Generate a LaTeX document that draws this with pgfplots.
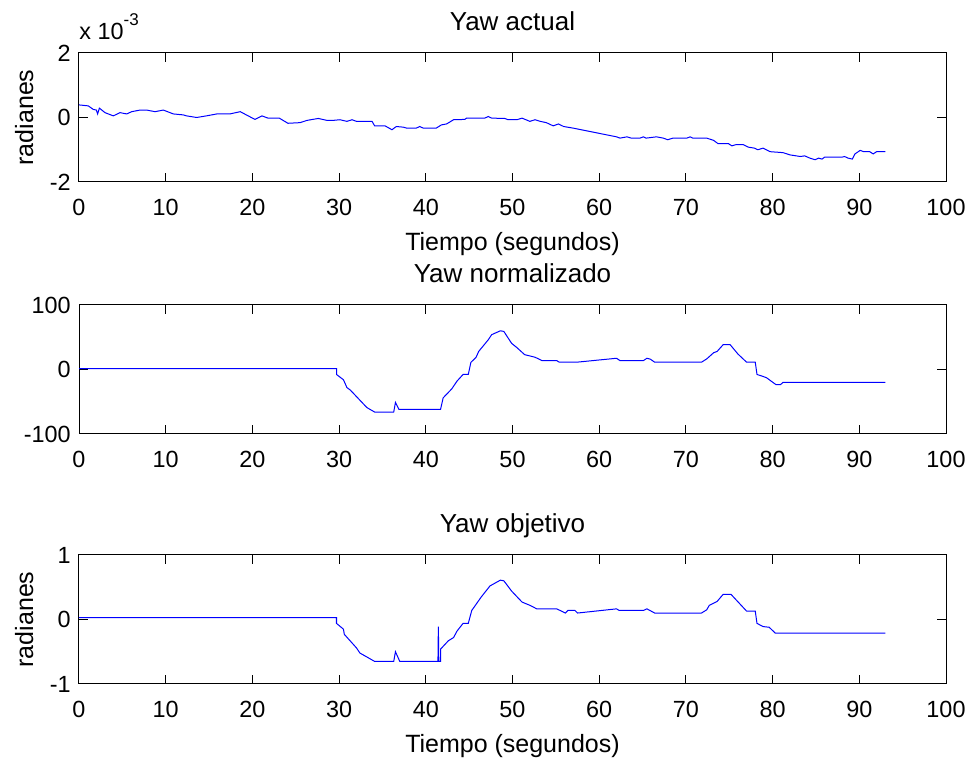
\documentclass[border=0pt]{standalone}
\usepackage{fontspec}
\setmainfont{Liberation Sans}
\usepackage{pgfplots}
\pgfplotsset{compat=1.18}
\definecolor{mblue}{RGB}{0,0,255}
\newcommand{\tickfont}{\fontsize{11.7}{14}\selectfont}
\newcommand{\titfont}{\fontsize{13}{15}\selectfont}
\newcommand{\labfont}{\fontsize{12.5}{14}\selectfont}
\pgfplotsset{
  mstyle/.style={
    scale only axis, width=433.5pt, height=64.5pt, anchor=south west,
    xmin=0, xmax=100, xtick={0,10,...,100},
    xticklabels={0,10,20,30,40,50,60,70,80,90,100},
    tick align=inside, major tick length=4.5pt,
    axis line style={line width=0.5pt}, every tick/.style={line width=0.5pt, black},
    tick label style={font=\tickfont},
    xticklabel style={anchor=base, inner sep=0pt, yshift=-17pt},
    yticklabel style={anchor=east, inner sep=0pt, xshift=-4pt},
    title style={font=\titfont, at={(axis description cs:0.5,1)}, anchor=base, yshift=5.3pt},
    xlabel style={font=\labfont, at={(axis description cs:0.5,0)}, anchor=base, yshift=-34.5pt},
    ylabel style={font=\labfont, at={(axis description cs:-0.053,0.5)}, anchor=base},
    clip=false,
  },
  mline/.style={mblue, line width=0.5pt, mark=none},
}
\begin{document}
\begin{tikzpicture}
\path[use as bounding box] (0,0) rectangle (487.5pt,379pt);
% top
\begin{axis}[mstyle, at={(39.5pt,288pt)}, ymin=-2, ymax=2, ytick={-2,0,2}, yticklabels={-2,0,2},
  title={Yaw actual}, xlabel={Tiempo (segundos)}, ylabel={radianes}]
\addplot[mline] coordinates {(0,0.39) (1.07,0.36) (1.65,0.25) (2.0,0.23) (2.15,0.11) (2.35,0.29) (3.0,0.15) (3.96,0.05) (4.73,0.15) (5.5,0.11) (6.08,0.18) (7.04,0.23) (7.8,0.23) (8.77,0.18) (9.73,0.23) (10.88,0.11) (12.03,0.08) (12.4,0.05) (13.57,0.0) (14.7,0.05) (15.9,0.11) (17.4,0.11) (18.6,0.18) (19.3,0.08) (20.3,-0.06) (21.1,0.05) (21.8,-0.02) (23.1,-0.02) (24.1,-0.18) (25.5,-0.16) (26.3,-0.09) (27.6,-0.03) (28.6,-0.09) (29.3,-0.09) (30.1,-0.07) (30.9,-0.12) (31.5,-0.07) (32.0,-0.12) (33.8,-0.12) (34.1,-0.26) (35.3,-0.26) (36.1,-0.38) (36.6,-0.28) (37.4,-0.3) (37.8,-0.33) (38.9,-0.33) (39.3,-0.28) (39.7,-0.33) (41.2,-0.33) (41.8,-0.23) (42.4,-0.2) (43.2,-0.07) (44.5,-0.06) (44.7,-0.02) (46.8,-0.02) (47.2,0.03) (47.6,-0.02) (49.1,-0.03) (49.5,-0.07) (50.5,-0.07) (51.1,-0.02) (52.0,-0.12) (52.6,-0.07) (53.2,-0.12) (53.9,-0.16) (54.7,-0.26) (55.3,-0.2) (55.9,-0.28) (57.0,-0.33) (62.0,-0.6) (62.4,-0.64) (63.2,-0.6) (63.7,-0.64) (64.7,-0.64) (65.1,-0.6) (65.4,-0.64) (66.6,-0.6) (67.4,-0.64) (67.9,-0.69) (68.5,-0.64) (70.1,-0.64) (70.5,-0.6) (70.8,-0.64) (72.4,-0.64) (73.2,-0.71) (73.7,-0.81) (74.9,-0.81) (75.3,-0.88) (75.8,-0.84) (76.6,-0.84) (77.2,-0.92) (77.9,-0.95) (78.3,-1.0) (78.9,-0.95) (79.7,-1.06) (81.2,-1.09) (82.0,-1.16) (83.2,-1.21) (83.7,-1.19) (84.3,-1.26) (84.9,-1.31) (85.3,-1.26) (85.7,-1.29) (86.0,-1.23) (88.0,-1.23) (88.3,-1.21) (88.7,-1.26) (89.2,-1.29) (89.5,-1.13) (90.1,-1.02) (90.5,-1.06) (91.2,-1.06) (91.6,-1.13) (92.0,-1.06) (93.0,-1.06)};
\node[font=\tickfont, anchor=base west, inner sep=0pt] at (axis description cs:0,1) [yshift=6.75pt] {x 10\raisebox{7pt}{\fontsize{8.5}{10}\selectfont -3}};
\end{axis}
% middle
\begin{axis}[mstyle, at={(39.5pt,162pt)}, ymin=-100, ymax=100, ytick={-100,0,100}, yticklabels={-100,0,100},
  title={Yaw normalizado}]
\addplot[mline] coordinates {(0,1.5) (29.7,1.5) (29.7,-7.7) (30.5,-15.9) (30.9,-28) (31.3,-32) (33.2,-59) (34.1,-66) (36.3,-66) (36.5,-51) (36.9,-62) (41.7,-62) (42.0,-44) (43.0,-30) (43.6,-18) (44.3,-7.7) (44.9,-7.7) (45.2,11) (45.8,19) (46.1,28) (47.2,46) (47.6,54) (48.6,60) (49.0,59) (49.9,40.5) (50.5,34) (51.4,23) (52.0,21) (52.6,19) (53.4,13.8) (55.1,13.8) (55.4,11.3) (57.4,11.3) (62.0,17.4) (62.4,13.8) (65.1,13.8) (65.5,17.4) (65.9,16) (66.4,11.3) (71.8,11.3) (72.4,16.4) (73.2,26) (73.6,28) (74.3,38.5) (75.1,38.5) (76.0,24) (77.0,11.3) (78.0,11.3) (78.2,-7.7) (78.9,-10.8) (79.3,-12.8) (80.4,-23.6) (80.9,-23.6) (81.2,-20) (93.0,-20)};
\end{axis}
% bottom
\begin{axis}[mstyle, at={(39.5pt,37pt)}, ymin=-1, ymax=1, ytick={-1,0,1}, yticklabels={-1,0,1},
  title={Yaw objetivo}, xlabel={Tiempo (segundos)}, ylabel={radianes}]
\addplot[mline] coordinates {(0,0.03) (29.7,0.03) (29.7,-0.06) (30.5,-0.15) (30.6,-0.23) (32.0,-0.44) (32.4,-0.52) (34.1,-0.65) (36.3,-0.65) (36.5,-0.5) (37.0,-0.65) (41.4,-0.65) (41.45,-0.11) (41.5,-0.65) (41.7,-0.65) (41.7,-0.46) (42.6,-0.33) (43.2,-0.28) (43.6,-0.18) (44.3,-0.06) (44.9,-0.06) (45.3,0.14) (46.4,0.35) (47.4,0.52) (47.8,0.55) (48.6,0.61) (49.0,0.6) (49.9,0.44) (51.1,0.27) (52.0,0.22) (52.8,0.165) (55.1,0.165) (56.1,0.1) (56.4,0.14) (57.2,0.14) (57.5,0.1) (62.0,0.165) (62.3,0.14) (65.1,0.14) (65.5,0.165) (66.4,0.1) (71.8,0.1) (72.4,0.15) (72.7,0.22) (73.6,0.28) (74.3,0.39) (75.2,0.39) (77.0,0.13) (78.0,0.13) (78.2,-0.06) (78.9,-0.11) (79.6,-0.12) (80.3,-0.21) (93.0,-0.21)};
\end{axis}
\end{tikzpicture}
\end{document}
